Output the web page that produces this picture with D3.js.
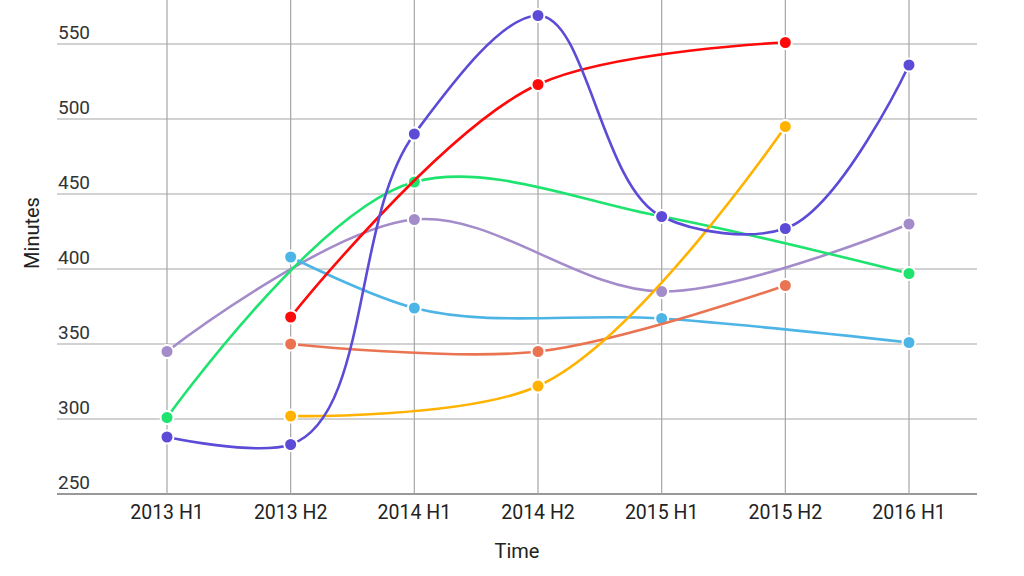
<!DOCTYPE html>
<html><head><meta charset="utf-8">
<script src="https://cdn.jsdelivr.net/npm/d3@7"></script>
<style>body{margin:0;background:#fff}svg{display:block}text{font-family:Roboto,Arial,sans-serif}</style>
</head><body>
<svg id="c" width="1024" height="576"></svg>
<script>
const categories = ["2013 H1","2013 H2","2014 H1","2014 H2","2015 H1","2015 H2","2016 H1"];
const yTicks = [250,300,350,400,450,500,550];
const gridTop = 600;
const lavender = [345,null,433,null,385,null,430];
const green    = [301,null,458,null,435,null,397];
const lightBlue= [null,408,374,null,367,null,351];
const coral    = [null,350,null,345,null,389,null];
const amber    = [null,302,null,322,null,495,null];
const red      = [null,368,null,523,null,551,null];
const purple   = [288,283,490,569,435,427,536];
const series = [
  {name:"Lavender", values:lavender, color:"#a48ccb"},
  {name:"Green", values:green, color:"#1ee36f"},
  {name:"Light blue", values:lightBlue, color:"#4db4e6"},
  {name:"Coral", values:coral, color:"#ea7451"},
  {name:"Amber", values:amber, color:"#ffb300"},
  {name:"Red", values:red, color:"#ff0a0a"},
  {name:"Purple", values:purple, color:"#5c4bd6"}
];
const svg = d3.select("#c");
const x = d3.scalePoint().domain(categories).range([167,909]);
const y = d3.scaleLinear().domain([250,gridTop]).range([494,-31]);
const left = 57, right = 977;
svg.append("g").selectAll("line").data(yTicks.concat([gridTop])).join("line")
  .attr("x1",left).attr("x2",right).attr("y1",d=>y(d)).attr("y2",d=>y(d))
  .attr("stroke",d=>d===250?"#999":"#a6a6a6").attr("stroke-width",d=>d===250?2:1.2);
svg.append("g").selectAll("line").data(categories).join("line")
  .attr("x1",d=>x(d)).attr("x2",d=>x(d)).attr("y1",0).attr("y2",494)
  .attr("stroke","#a6a6a6").attr("stroke-width",1.2);
svg.append("g").selectAll("text").data(yTicks).join("text")
  .attr("x",58).attr("y",d=>y(d)-5).text(d=>d)
  .attr("font-size",19).attr("fill","#333");
svg.append("g").selectAll("text").data(categories).join("text")
  .attr("x",d=>x(d)).attr("y",519).attr("text-anchor","middle").text(d=>d)
  .attr("font-size",19.5).attr("fill","#222");
svg.append("text").attr("x",517).attr("y",558).attr("text-anchor","middle")
  .attr("font-size",20).attr("fill","#222").text("Time");
svg.append("text").attr("transform","translate(39,233) rotate(-90)").attr("text-anchor","middle")
  .attr("font-size",20).attr("fill","#222").text("Minutes");
const line = d3.line().x(d=>x(d.c)).y(d=>y(d.v)).curve(d3.curveCatmullRom.alpha(0.85));
series.forEach(s=>{
  const pts = s.values.map((v,i)=>({c:categories[i],v})).filter(d=>d.v!=null);
  svg.append("path").datum(pts).attr("d",line).attr("fill","none")
    .attr("stroke",s.color).attr("stroke-width",2.6);
  svg.append("g").selectAll("circle").data(pts).join("circle")
    .attr("cx",d=>x(d.c)).attr("cy",d=>y(d.v)).attr("r",6.5)
    .attr("fill",s.color).attr("stroke","#fff").attr("stroke-width",2);
});
</script>
</body></html>
